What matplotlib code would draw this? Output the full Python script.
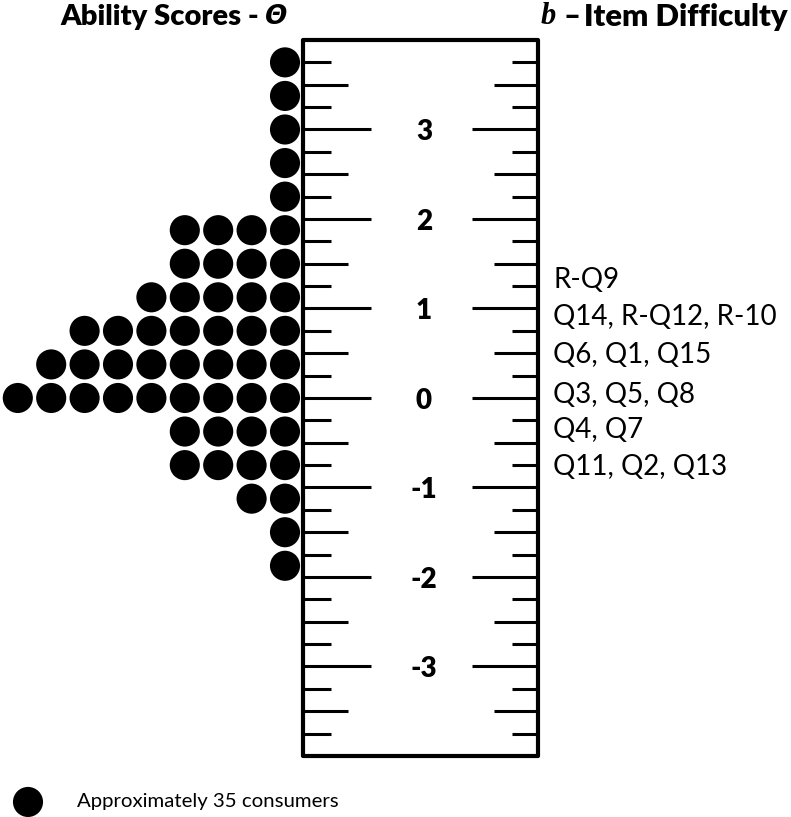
import numpy as np
import matplotlib
matplotlib.use("Agg")
import matplotlib.pyplot as plt
from matplotlib.patches import Rectangle

# ---- data ----
theta_rows = [3.75, 3.375, 3.0, 2.625, 2.25, 1.875, 1.5, 1.125, 0.75, 0.375,
              0.0, -0.375, -0.75, -1.125, -1.5, -1.875]
dot_counts = [1, 1, 1, 1, 1, 4, 4, 5, 7, 8, 9, 4, 4, 2, 1, 1]
ruler_labels = [3, 2, 1, 0, -1, -2, -3]
item_b = [1.32, 0.90, 0.48, 0.03, -0.36, -0.77]
item_labels = ["R-Q9", "Q14, R-Q12, R-10", "Q6, Q1, Q15", "Q3, Q5, Q8",
               "Q4, Q7", "Q11, Q2, Q13"]
legend_text = "Approximately 35 consumers"

FONT = ["Lato", "DejaVu Sans"]
plt.rcParams['font.family'] = FONT

fig = plt.figure(figsize=(7.91, 8.17), dpi=100)
ax = fig.add_axes([0, 0, 1, 1])
ax.set_xlim(0, 791)
ax.set_ylim(-4.682, 4.447)
ax.axis('off')

# ruler
x_left, x_right = 303, 538
ax.add_patch(Rectangle((x_left, -4.0), x_right - x_left, 8.0, fill=False,
                       lw=3.0, ec='black', joinstyle='round'))
ticks = np.arange(-3.75, 3.76, 0.25)
for t in ticks:
    if abs(t - round(t)) < 1e-9:
        lL, lR = 68, 66
    elif abs(t * 2 - round(t * 2)) < 1e-9:
        lL, lR = 45, 44
    else:
        lL, lR = 28, 26
    ax.plot([x_left, x_left + lL], [t, t], color='black', lw=2.2, solid_capstyle='butt')
    ax.plot([x_right - lR, x_right], [t, t], color='black', lw=2.2, solid_capstyle='butt')

for v in ruler_labels:
    ax.text(424, v - 0.03, str(v), ha='center', va='center', fontsize=20,
            fontweight='heavy')

# dots
xs, ys = [], []
for yv, n in zip(theta_rows, dot_counts):
    for k in range(n):
        xs.append(285 - 33.4 * k)
        ys.append(yv)
ax.scatter(xs, ys, s=470, color='black', edgecolors='none', zorder=3)

# item labels
for b, lab in zip(item_b, item_labels):
    ax.text(553, b, lab, ha='left', va='center', fontsize=20)

# titles
ax.text(259, 4.26, "Ability Scores -", ha='right', va='center', fontsize=21,
        fontweight='heavy')
ax.text(265, 4.26, "Θ", ha='left', va='center', fontsize=19,
        fontweight='bold', fontstyle='italic', family=["DejaVu Sans"])
ax.text(541, 4.26, "b", ha='left', va='center', fontsize=22,
        fontweight='bold', fontstyle='italic', family=["Liberation Serif"])
ax.text(563, 4.26, "–", ha='left', va='center', fontsize=21,
        fontweight='heavy')
ax.text(788, 4.26, "Item Difficulty", ha='right', va='center', fontsize=22.3,
        fontweight='heavy')

# legend
ax.scatter([28], [-4.514], s=470, color='black', edgecolors='none')
ax.text(77, -4.514, legend_text, ha='left', va='center', fontsize=14.7)

fig.savefig("out.png", dpi=100)
